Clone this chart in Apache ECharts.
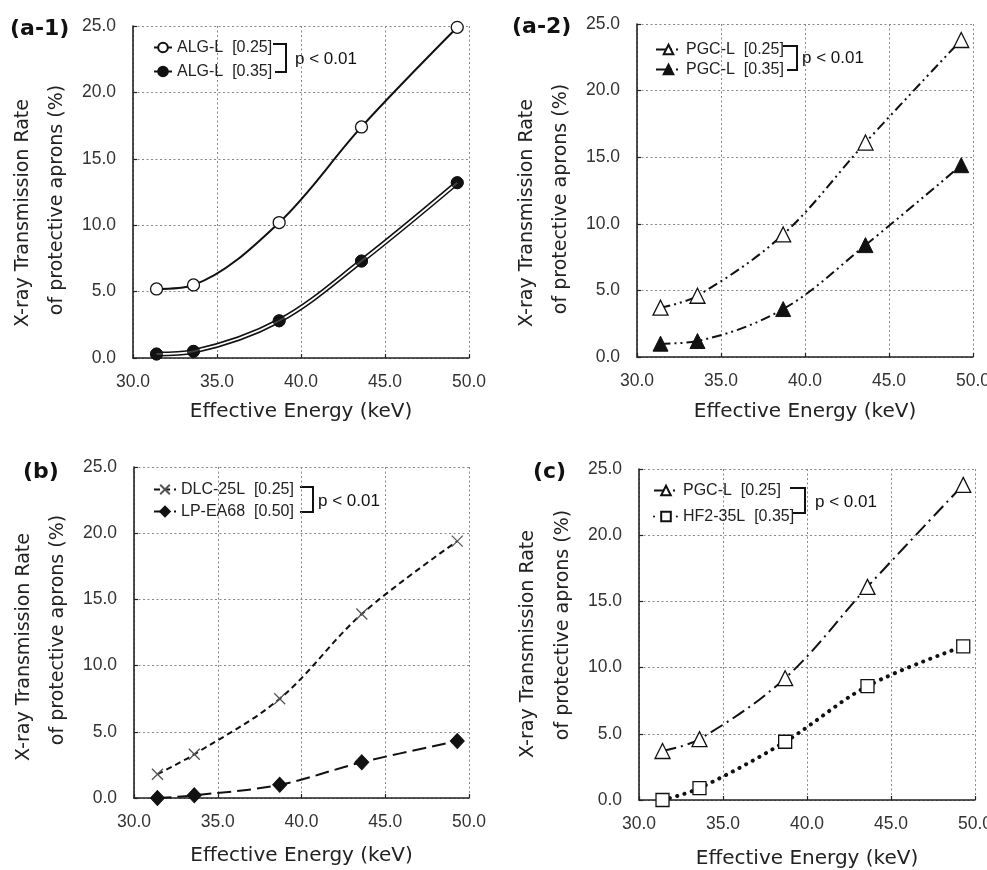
<!DOCTYPE html>
<html>
<head>
<meta charset="utf-8">
<script src="https://cdn.jsdelivr.net/npm/echarts@6/dist/echarts.min.js"></script>
<style>html,body{margin:0;padding:0;background:#fff}#chart{width:987px;height:870px}</style>
</head>
<body>
<div id="chart"></div>
<script>
// ---------------- data ----------------
const energies = [31.4, 33.6, 38.7, 43.6, 49.3];        // effective energy (keV)
const xTicks = [30, 35, 40, 45, 50];
const yTicks = [0, 5, 10, 15, 20, 25];
const algL025 = [5.2, 5.5, 10.2, 17.4, 24.9];
const algL035 = [0.3, 0.5, 2.8, 7.3, 13.2];
const pgcL025 = [3.7, 4.6, 9.2, 16.1, 23.8];
const pgcL035 = [1.0, 1.2, 3.6, 8.4, 14.4];
const dlc25L  = [1.8, 3.3, 7.5, 13.9, 19.4];
const lpEA68  = [0.0, 0.2, 1.0, 2.7, 4.3];
const hf235L  = [0.0, 0.9, 4.4, 8.6, 11.6];
const panelLabels = ['(a-1)', '(a-2)', '(b)', '(c)'];
const xTitle = 'Effective Energy (keV)';
const yTitle1 = 'X-ray Transmission Rate';
const yTitle2 = 'of protective aprons (%)';
const pText = 'p < 0.01';
const names = {
  a1: ['ALG-L  [0.25]', 'ALG-L  [0.35]'],
  a2: ['PGC-L  [0.25]', 'PGC-L  [0.35]'],
  b:  ['DLC-25L  [0.25]', 'LP-EA68  [0.50]'],
  c:  ['PGC-L\u00a0 [0.25]', 'HF2-35L  [0.35]']
};

// ---------------- layout ----------------
const grids = [
  {left:133, top:26,  width:336, height:332},
  {left:637, top:24,  width:336, height:333},
  {left:134, top:467, width:335, height:331},
  {left:639, top:469, width:336, height:331}
];
const xNameGap = [44, 45, 48, 49];
const labelPos = [[10,29],[512,27],[23,472],[533,472]];
const yTitlePos = [
  [[23,213],[57,200]],
  [[527,213],[561,199]],
  [[24,647],[58,630]],
  [[528,644],[563,625]]
];
const legendPos = [
  {left:153, top:37, gap:3, w:18},
  {left:655, top:39, gap:-1, w:25},
  {left:153, top:479, gap:1, w:22},
  {left:653, top:480, gap:5, w:24}
];
const brackets = [
  {pts:[[273,44],[286,44],[286,72],[275,72]], px:295, py:59},
  {pts:[[783,46],[797,46],[797,70],[787,70]], px:802, py:58},
  {pts:[[300,487],[313,487],[313,512],[300,512]], px:318, py:501},
  {pts:[[790,488],[805,488],[805,513],[793,513]], px:815, py:502}
];

const INK = '#111';
const SMOOTH = 0.35;
const pts = ys => energies.map((x, i) => [x, ys[i]]);

const gridLine = {show:true, showMinLine:true, showMaxLine:true, lineStyle:{type:[2,2.5], color:'#888', width:1}};
const xAxes = grids.map((g, i) => ({
  type:'value', gridIndex:i,
  min:xTicks[0], max:xTicks[xTicks.length-1], interval:xTicks[1]-xTicks[0],
  name:xTitle, nameLocation:'middle', nameGap:xNameGap[i],
  nameTextStyle:{fontFamily:'DejaVu Sans', fontSize:20, color:'#222'},
  axisLine:{show:true, onZero:false, lineStyle:{color:'#222', width:1.6}},
  axisTick:{show:true, inside:true, length:4, lineStyle:{color:'#222', width:1.2}},
  axisLabel:{formatter:v => v.toFixed(1), fontFamily:'Liberation Sans', fontSize:17.5, color:'#333', margin:15},
  splitLine:gridLine
}));
const yAxes = grids.map((g, i) => ({
  type:'value', gridIndex:i,
  min:yTicks[0], max:yTicks[yTicks.length-1], interval:yTicks[1]-yTicks[0],
  axisLine:{show:true, onZero:false, lineStyle:{color:'#222', width:1.6}},
  axisTick:{show:true, inside:true, length:4, lineStyle:{color:'#222', width:1.2}},
  axisLabel:{formatter:v => v.toFixed(1), fontFamily:'Liberation Sans', fontSize:17.5, color:'#333', margin:17},
  splitLine:gridLine
}));

const openItem = {color:'#fff', borderColor:INK, borderWidth:1.3};
const fillItem = {color:INK, borderColor:INK, borderWidth:1};
function line(name, gi, ys, o) {
  return Object.assign({
    name, type:'line', xAxisIndex:gi, yAxisIndex:gi, data:pts(ys),
    smooth:SMOOTH, showSymbol:true, symbolSize:12, z:3, animation:false
  }, o);
}

const series = [
  // (a-1)
  line(names.a1[1], 0, algL035, {symbol:'circle', itemStyle:fillItem, lineStyle:{color:INK, width:5}, z:2}),
  line(names.a1[1] + ' inner', 0, algL035, {symbol:'none', showSymbol:false, lineStyle:{color:'#fff', width:1.8}, z:3, silent:true}),
  {name:names.a1[1] + ' marks', type:'scatter', xAxisIndex:0, yAxisIndex:0, data:pts(algL035), symbol:'circle', symbolSize:12, itemStyle:fillItem, z:4, animation:false},
  line(names.a1[0], 0, algL025, {symbol:'circle', itemStyle:openItem, lineStyle:{color:INK, width:2}, z:5}),
  // (a-2)
  line(names.a2[0], 1, pgcL025, {symbol:'triangle', symbolSize:15, itemStyle:openItem, lineStyle:{color:INK, width:2, type:[10,4,2,4,2,4]}}),
  line(names.a2[1], 1, pgcL035, {symbol:'triangle', symbolSize:15, itemStyle:fillItem, lineStyle:{color:INK, width:2, type:[10,4,2,4,2,4]}}),
  // (b)
  line(names.b[0], 2, dlc25L, {symbol:'path://M0,0L10,10M10,0L0,10', symbolSize:11, itemStyle:{color:'#555', borderColor:'#555', borderWidth:1.3}, lineStyle:{color:INK, width:2, type:[6,4]}}),
  line(names.b[1], 2, lpEA68, {symbol:'diamond', symbolSize:[14,15], itemStyle:fillItem, lineStyle:{color:INK, width:2, type:[14,6]}}),
  // (c)
  line(names.c[0], 3, pgcL025, {symbol:'triangle', symbolSize:15, itemStyle:openItem, lineStyle:{color:INK, width:2, type:[14,5,2,5]}}),
  line(names.c[1], 3, hf235L, {symbol:'rect', symbolSize:13, itemStyle:openItem, lineStyle:{color:INK, width:4, type:[0.1,7.5], cap:'round'}})
];

const legendData = [names.a1, names.a2, names.b, names.c];
const legends = legendPos.map((p, i) => ({
  orient:'vertical', left:p.left, top:p.top, padding:0, itemGap:p.gap,
  itemWidth:p.w, itemHeight:12, selectedMode:false,
  data:legendData[i],
  textStyle:{fontFamily:'Liberation Sans', fontSize:16, color:'#222', lineHeight:21}
}));

const graphic = [];
panelLabels.forEach((t, i) => {
  graphic.push({type:'text', x:labelPos[i][0], y:labelPos[i][1],
    style:{text:t, fontFamily:'DejaVu Sans', fontWeight:'bold', fontSize:22, fill:'#111', align:'left', verticalAlign:'middle'}});
  [yTitle1, yTitle2].forEach((tt, k) => {
    graphic.push({type:'text', x:yTitlePos[i][k][0], y:yTitlePos[i][k][1], rotation:Math.PI/2,
      style:{text:tt, fontFamily:'DejaVu Sans', fontSize:19, fill:'#222', align:'center', verticalAlign:'middle'}});
  });
  const b = brackets[i];
  graphic.push({type:'polyline', shape:{points:b.pts}, style:{stroke:'#111', lineWidth:2, fill:null}});
  graphic.push({type:'text', x:b.px, y:b.py,
    style:{text:pText, fontFamily:'Liberation Sans', fontSize:17, fill:'#111', align:'left', verticalAlign:'middle'}});
});

const chart = echarts.init(document.getElementById('chart'), null, {renderer:'canvas'});
chart.setOption({
  backgroundColor:'#fff',
  animation:false,
  grid:grids.map(g => Object.assign({containLabel:false, outerBoundsMode:'none'}, g)),
  xAxis:xAxes,
  yAxis:yAxes,
  legend:legends,
  series,
  graphic
});
</script>
</body>
</html>
